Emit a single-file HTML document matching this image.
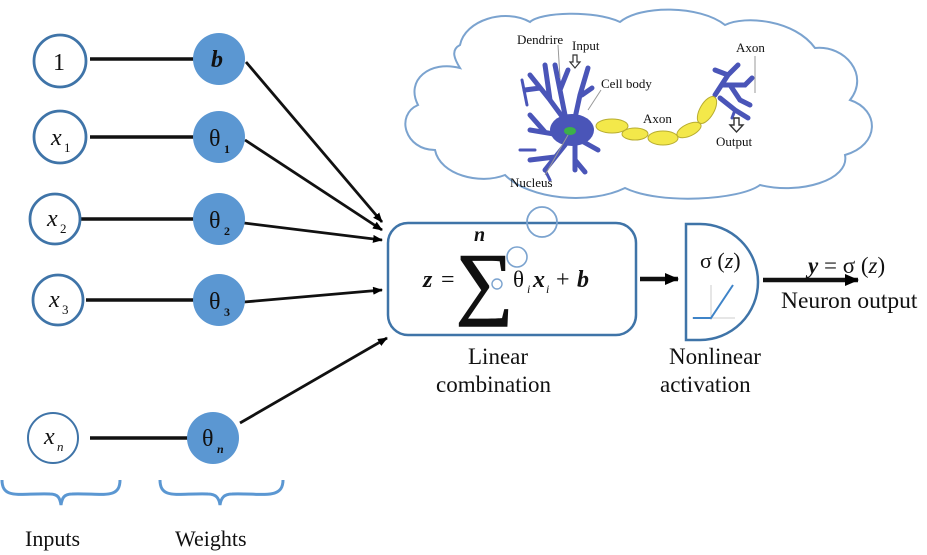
<!DOCTYPE html>
<html><head><meta charset="utf-8"><style>
html,body{margin:0;padding:0;background:#fff;}
svg{display:block;font-family:"Liberation Serif",serif;}
</style></head><body>
<svg width="927" height="555" viewBox="0 0 927 555" xmlns="http://www.w3.org/2000/svg">
<defs>
<marker id="ah" markerWidth="10" markerHeight="8" refX="9" refY="4" orient="auto" markerUnits="userSpaceOnUse">
<path d="M0,0 L10,4 L0,8 z" fill="#000"/></marker>
<marker id="ah2" markerWidth="14" markerHeight="12" refX="13" refY="6" orient="auto" markerUnits="userSpaceOnUse">
<path d="M0,0 L14,6 L0,12 z" fill="#000"/></marker>
</defs>
<!-- cloud -->
<path d="M460,68 C430,60 405,80 418,105 C395,115 405,150 435,150 C440,175 480,185 505,175 C530,200 590,205 625,188 C660,205 740,200 760,185 C800,195 850,180 845,155 C880,145 880,110 850,100 C870,75 845,45 815,48 C795,20 745,15 725,25 C700,5 640,5 620,22 C595,10 540,12 530,22 C505,8 465,20 460,45 C450,50 455,60 460,68 Z" fill="#fff" stroke="#7ba3cf" stroke-width="2"/>
<g stroke="#111" stroke-width="3.5">
<line x1="90" y1="59" x2="196" y2="59"/>
<line x1="90" y1="137" x2="195" y2="137"/>
<line x1="80" y1="219" x2="195" y2="219"/>
<line x1="86" y1="300" x2="195" y2="300"/>
<line x1="90" y1="438" x2="190" y2="438"/>
</g>
<g stroke="#111" stroke-width="2.8" fill="none">
<line x1="246" y1="62" x2="382" y2="222" marker-end="url(#ah)"/>
<line x1="245" y1="140" x2="382" y2="230" marker-end="url(#ah)"/>
<line x1="244" y1="223" x2="382" y2="240" marker-end="url(#ah)"/>
<line x1="244" y1="302" x2="382" y2="290" marker-end="url(#ah)"/>
<line x1="240" y1="423" x2="387" y2="338" marker-end="url(#ah)"/>
</g>
<g fill="#fff" stroke="#3f74a8" stroke-width="2.8">
<circle cx="60" cy="61" r="26"/>
<circle cx="60" cy="137" r="26"/>
<circle cx="55" cy="219" r="25"/>
<circle cx="58" cy="300" r="25"/>
<circle cx="53" cy="438" r="25" stroke-width="2"/>
</g>
<g fill="#5b97d2">
<circle cx="219" cy="59" r="26"/>
<circle cx="219" cy="137" r="26"/>
<circle cx="219" cy="219" r="26"/>
<circle cx="219" cy="300" r="26"/>
<circle cx="213" cy="438" r="26"/>
</g>
<g font-size="24" fill="#111">
<text x="53" y="70">1</text>
<text x="51" y="145" font-style="italic">x</text><text x="64" y="152" font-size="13">1</text>
<text x="47" y="226" font-style="italic">x</text><text x="60" y="233" font-size="13">2</text>
<text x="49" y="307" font-style="italic">x</text><text x="62" y="314" font-size="13">3</text>
<text x="44" y="444" font-style="italic">x</text><text x="57" y="451" font-size="13" font-style="italic">n</text>
<text x="211" y="67" font-style="italic" font-weight="bold" font-size="24">b</text>
<text x="209" y="146" font-size="24">θ</text><text x="224" y="153" font-size="12" font-weight="bold">1</text>
<text x="209" y="228" font-size="24">θ</text><text x="224" y="235" font-size="12" font-weight="bold">2</text>
<text x="209" y="309" font-size="24">θ</text><text x="224" y="316" font-size="12" font-weight="bold">3</text>
<text x="202" y="446" font-size="24">θ</text><text x="217" y="453" font-size="12" font-weight="bold" font-style="italic">n</text>
</g>
<g fill="none" stroke="#5b97d2" stroke-width="3">
<path d="M2,480 C2,500 20,493 50,494 C58,494 60,498 61,505 C62,498 64,494 72,494 C102,493 120,500 120,480"/>
<path d="M160,480 C160,500 178,493 208,494 C216,494 219,498 220,505 C221,498 224,494 232,494 C262,493 283,500 283,480"/>
</g>
<text x="25" y="546" font-size="22" fill="#111">Inputs</text>
<text x="175" y="546" font-size="22" fill="#111">Weights</text>
<rect x="388" y="223" width="248" height="112" rx="20" fill="#fff" stroke="#3f74a8" stroke-width="2.5"/>
<circle cx="542" cy="222" r="15" fill="none" stroke="#7ba3cf" stroke-width="1.8"/>
<circle cx="517" cy="257" r="10" fill="#fff" stroke="#7ba3cf" stroke-width="1.6"/>
<circle cx="497" cy="284" r="5" fill="none" stroke="#7ba3cf" stroke-width="1.4"/>
<g fill="#111">
<text x="423" y="287" font-size="24" font-style="italic" font-weight="bold">z</text>
<text x="441" y="287" font-size="24">=</text>
<text x="474" y="241" font-size="20" font-style="italic" font-weight="bold">n</text>
<text x="456" y="309" font-size="80" stroke="#111" stroke-width="1.5">∑</text>
<text x="513" y="287" font-size="23">θ</text><text x="527" y="293" font-size="12" font-style="italic">i</text>
<text x="533" y="287" font-size="24" font-style="italic" font-weight="bold">x</text><text x="546" y="293" font-size="12" font-style="italic">i</text>
<text x="556" y="287" font-size="24">+</text>
<text x="577" y="287" font-size="24" font-style="italic" font-weight="bold">b</text>
</g>
<line x1="640" y1="279" x2="678" y2="279" stroke="#111" stroke-width="4.5" marker-end="url(#ah2)"/>
<path d="M686,224 L700,224 A58,58 0 0 1 700,340 L686,340 Z" fill="#fff" stroke="#3f74a8" stroke-width="2.5"/>
<text x="700" y="268" font-size="22" fill="#111">σ (<tspan font-style="italic">z</tspan>)</text>
<line x1="711" y1="285" x2="711" y2="320" stroke="#ccc" stroke-width="1"/>
<line x1="692" y1="318" x2="735" y2="318" stroke="#ccc" stroke-width="1"/>
<path d="M693,318 L711,318 L733,285" fill="none" stroke="#3f84c8" stroke-width="2"/>
<line x1="763" y1="280" x2="858" y2="280" stroke="#111" stroke-width="4.5" marker-end="url(#ah2)"/>
<text x="808" y="273" font-size="23" fill="#111"><tspan font-style="italic" font-weight="bold">y</tspan> = σ (<tspan font-style="italic">z</tspan>)</text>
<text x="781" y="308" font-size="23.5" fill="#111">Neuron output</text>
<text x="468" y="364" font-size="23" fill="#111">Linear</text>
<text x="436" y="392" font-size="23" fill="#111">combination</text>
<text x="669" y="364" font-size="23" fill="#111">Nonlinear</text>
<text x="660" y="392" font-size="23" fill="#111">activation</text>
<g stroke="#4a55b8" stroke-width="5" stroke-linecap="round" fill="none">
<path d="M572,130 L550,100 L530,75 M550,100 L545,65 M540,88 L525,90"/>
<path d="M565,115 L560,90 L555,65 M560,90 L568,70"/>
<path d="M575,118 L580,95 L588,68 M582,95 L592,88"/>
<path d="M560,135 L530,130 M545,132 L530,115"/>
<path d="M565,145 L545,170 M555,157 L530,160"/>
<path d="M575,145 L575,170 M575,160 L585,172"/>
<path d="M580,140 L598,150"/>
<path d="M715,95 L728,75 L738,65 M728,75 L715,70 M722,85 L745,85 L752,78 M730,85 L740,100 L750,105 M720,98 L735,110 L748,118"/>
</g>
<g stroke="#4a55b8" stroke-width="3" stroke-linecap="round" fill="none">
<path d="M527,105 L522,80 M535,150 L520,150 M545,170 L550,180 M735,110 L732,118"/>
</g>
<ellipse cx="572" cy="130" rx="22" ry="16" fill="#4a55b8"/>
<ellipse cx="570" cy="131" rx="6" ry="4" fill="#3cb04a"/>
<g fill="#f3e84a" stroke="#b8ad30" stroke-width="1">
<ellipse cx="612" cy="126" rx="16" ry="7"/>
<ellipse cx="635" cy="134" rx="13" ry="6"/>
<ellipse cx="663" cy="138" rx="15" ry="7"/>
<ellipse cx="689" cy="130" rx="13" ry="6" transform="rotate(-25 689 130)"/>
<ellipse cx="707" cy="110" rx="15" ry="7" transform="rotate(-60 707 110)"/>
</g>
<g fill="#111" font-size="13">
<text x="517" y="44">Dendrire</text>
<text x="572" y="50">Input</text>
<text x="601" y="88">Cell body</text>
<text x="643" y="123">Axon</text>
<text x="736" y="52">Axon</text>
<text x="716" y="146">Output</text>
<text x="510" y="187">Nucleus</text>
</g>
<g stroke="#999" stroke-width="1" fill="none">
<line x1="558" y1="45" x2="560" y2="78"/>
<line x1="601" y1="90" x2="588" y2="110"/>
<line x1="568" y1="135" x2="545" y2="175"/>
<line x1="755" y1="56" x2="755" y2="93"/>
</g>
<path d="M573,55 L577,55 L577,62 L580,62 L575,68 L570,62 L573,62 Z" fill="#fff" stroke="#333" stroke-width="1.2"/>
<path d="M734,118 L739,118 L739,125 L743,125 L736.5,132 L730,125 L734,125 Z" fill="#fff" stroke="#333" stroke-width="1.4"/>
</svg>
</body></html>
